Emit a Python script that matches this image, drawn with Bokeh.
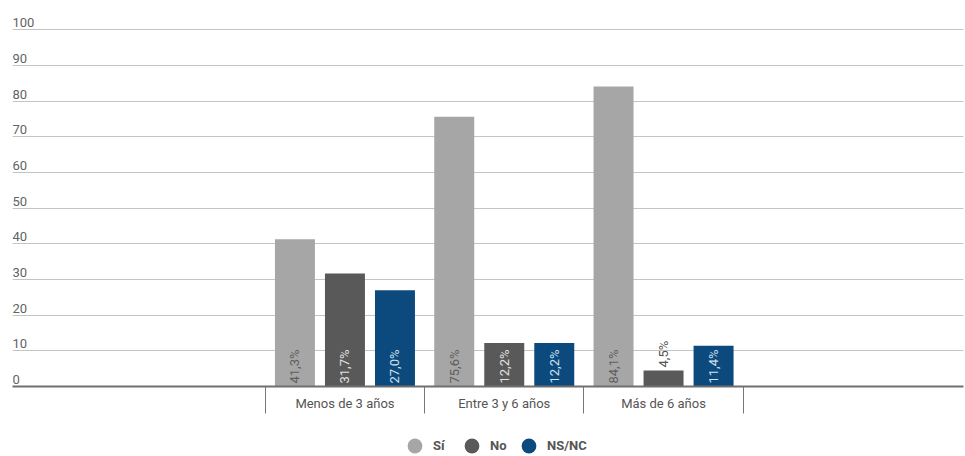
import numpy as np
from bokeh.plotting import figure
from bokeh.layouts import column
from bokeh.models import (ColumnDataSource, FixedTicker, Grid, Legend, LegendItem,
                          Range1d)
from bokeh.embed import file_html
from bokeh.resources import INLINE
from bokeh.core.properties import value

# ---- data ----
categories = ["Menos de 3 años", "Entre 3 y 6 años", "Más de 6 años"]
series_names = ["Sí", "No", "NS/NC"]
si_values = [41.3, 75.6, 84.1]
no_values = [31.7, 12.2, 4.5]
nsnc_values = [27.0, 12.2, 11.4]
y_ticks = [0, 10, 20, 30, 40, 50, 60, 70, 80, 90, 100]

# ---- style ----
bar_colors = ["#a6a6a6", "#595959", "#0c4a7e"]
inside_label_colors = ["#5e5e5e", "#e2e2e2", "#cfe0f0"]
outside_label_color = "#555555"
FONT = "Roboto"

W = 965
H1 = 414
H2 = 456 - H1

p = figure(width=W, height=H1, output_backend="svg", toolbar_location=None,
           x_range=Range1d(-2.087, 3.883), y_range=Range1d(0, 105.4),
           y_axis_location=None, x_axis_location="below",
           min_border_left=12, min_border_right=2, min_border_top=10,
           min_border_bottom=H1 - 386)
p.outline_line_color = None
p.background_fill_color = "white"
p.border_fill_color = "white"
p.xgrid.visible = False

grid = Grid(dimension=1, ticker=FixedTicker(ticks=y_ticks),
            grid_line_color="#c4c4c4", grid_line_width=1)
p.add_layout(grid)

# x axis with category labels and separators
xaxis = p.xaxis[0]
n_cat = len(categories)
centers = list(range(n_cat))
bounds = [i - 0.5 for i in range(n_cat + 1)]
xaxis.ticker = FixedTicker(ticks=centers, minor_ticks=bounds)
xaxis.major_label_overrides = {i: c for i, c in enumerate(categories)}
xaxis.major_tick_out = 0
xaxis.major_tick_in = 0
xaxis.major_tick_line_color = None
xaxis.minor_tick_out = 27
xaxis.minor_tick_in = 0
xaxis.minor_tick_line_color = "#777777"
xaxis.minor_tick_line_width = 1
xaxis.axis_line_color = "#6f6f6f"
xaxis.axis_line_width = 2
xaxis.major_label_standoff = -18
xaxis.major_label_text_font = FONT
xaxis.major_label_text_font_size = "13px"
xaxis.major_label_text_color = "#555555"

# y tick labels drawn inside the plot, above gridlines
ysrc = ColumnDataSource(dict(x=[p.x_range.start] * len(y_ticks), y=y_ticks,
                             t=[str(v) for v in y_ticks]))
p.text(x="x", y="y", text="t", source=ysrc, text_font=value(FONT),
       text_font_size="13px", text_color="#636363", text_align="left",
       text_baseline="alphabetic", y_offset=-7)

# bars
bar_w = 0.251
offsets = [-0.314, 0.0, 0.314]
all_values = [si_values, no_values, nsnc_values]

# legend figure
q = figure(width=W, height=H2, output_backend="svg", toolbar_location=None,
           x_range=Range1d(0, 1), y_range=Range1d(0, 1),
           x_axis_location=None, y_axis_location=None, min_border=0)
q.outline_line_color = None
q.xgrid.visible = False
q.ygrid.visible = False
q.background_fill_color = "white"
q.border_fill_color = "white"

legend_items = []
for k, (name, vals) in enumerate(zip(series_names, all_values)):
    xs = np.arange(n_cat) + offsets[k]
    src = ColumnDataSource(dict(x=xs, top=vals))
    p.vbar(x="x", top="top", width=bar_w, source=src,
           fill_color=bar_colors[k], line_color=None)
    # value labels
    inside = [v >= 10 for v in vals]
    ly = [0 if ins else v for v, ins in zip(vals, inside)]
    lc = [inside_label_colors[k] if ins else outside_label_color for ins in inside]
    lt = [f"{v:.1f}%".replace(".", ",") for v in vals]
    lsrc = ColumnDataSource(dict(x=xs, y=ly, c=lc, t=lt))
    p.text(x="x", y="y", text="t", source=lsrc, angle=np.pi / 2,
           text_font=value(FONT), text_font_size="13px", text_color="c",
           text_align="left", text_baseline="middle", y_offset=-3)
    # legend marker (a point kept outside the visible range of the legend strip)
    r = q.scatter(x=[-10], y=[-10], marker="circle", size=15,
                  fill_color=bar_colors[k], line_color=None)
    legend_items.append(LegendItem(label=name, renderers=[r]))

legend = Legend(items=legend_items, orientation="horizontal",
                location=(384, H2 - 50), glyph_width=37, glyph_height=37,
                label_standoff=0, spacing=0, padding=0, margin=0,
                border_line_color=None, background_fill_alpha=0,
                label_text_font=FONT, label_text_font_size="13px",
                label_text_font_style="bold", label_text_color="#555555")
q.add_layout(legend, "center")

layout = column(p, q, spacing=0)
open("out.html", "w").write(file_html(layout, INLINE))
